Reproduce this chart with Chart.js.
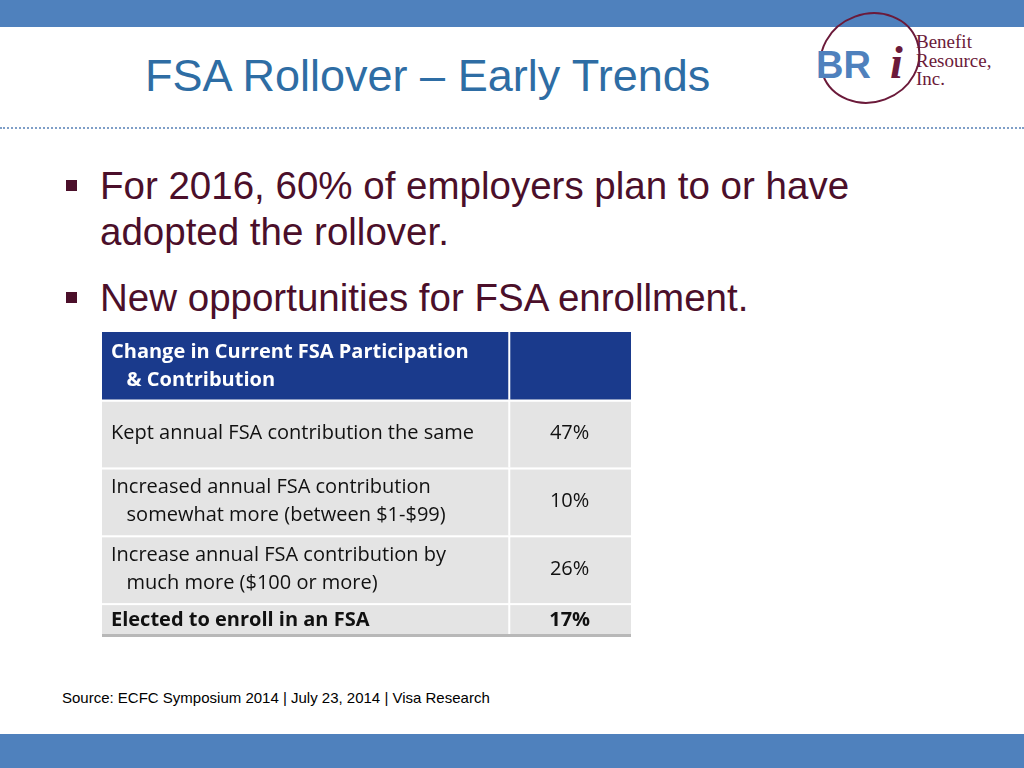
<!DOCTYPE html>
<html>
<head>
<meta charset="utf-8">
<script src="https://cdn.jsdelivr.net/npm/chart.js@4/dist/chart.umd.min.js"></script>
<style>
  body { margin: 0; width: 1024px; height: 768px; position: relative; background: #fff; font-family: "Liberation Sans", Arial, sans-serif; overflow: hidden; }
  .topbar { position: absolute; left: 0; top: 0; width: 1024px; height: 27px; background: #4f81bd; }
  .botbar { position: absolute; left: 0; top: 734px; width: 1024px; height: 34px; background: #4f81bd; }
  .rule { position: absolute; left: 0; top: 127px; width: 1024px; border-top: 2px dotted #7f9fc8; }
  h1 { position: absolute; left: 145px; top: 50px; margin: 0; font-weight: normal; font-size: 45px; color: #2e6da4; }
  .bullet { position: absolute; left: 100px; font-size: 38.5px; color: #4b0f2a; line-height: 46px; white-space: nowrap; }
  .bullet::before { content: ""; position: absolute; left: -34px; top: 17px; width: 11px; height: 11px; background: #4b0f2a; }
  .src { position: absolute; left: 62px; top: 689px; font-size: 15px; color: #000; }
  #wrap { position: absolute; left: 102px; top: 332px; width: 529px; height: 305px; }
  .logo { position: absolute; left: 812px; top: 4px; width: 200px; height: 100px; }
</style>
</head>
<body>
<div class="topbar"></div>
<svg class="logo" viewBox="0 0 200 100">
  <ellipse cx="58" cy="54" rx="50" ry="44" fill="none" stroke="#6b1a3a" stroke-width="2" transform="rotate(-20 58 54)"/>
  <text x="4" y="74" font-family="Liberation Sans" font-weight="bold" font-size="38" fill="#4f81bd">BR</text>
  <text x="78" y="74" font-family="Liberation Serif" font-style="italic" font-weight="bold" font-size="46" fill="#6b1a3a">i</text>
  <text x="104" y="44" font-family="Liberation Serif" font-size="19" fill="#6b1a3a">Benefit</text>
  <text x="104" y="63" font-family="Liberation Serif" font-size="19" fill="#6b1a3a">Resource,</text>
  <text x="104" y="81" font-family="Liberation Serif" font-size="19" fill="#6b1a3a">Inc.</text>
</svg>
<h1>FSA Rollover – Early Trends</h1>
<div class="rule"></div>
<div class="bullet" style="top:163px">For 2016, 60% of employers plan to or have<br>adopted the rollover.</div>
<div class="bullet" style="top:275px">New opportunities for FSA enrollment.</div>
<div id="wrap"><canvas id="tbl"></canvas></div>
<div class="src">Source: ECFC Symposium 2014 | July 23, 2014 | Visa Research</div>
<div class="botbar"></div>
<script>
const headerLines = ['Change in Current FSA Participation', '   & Contribution'];
const rowLabels = [
  ['Kept annual FSA contribution the same'],
  ['Increased annual FSA contribution', '   somewhat more (between $1-$99)'],
  ['Increase annual FSA contribution by', '   much more ($100 or more)'],
  ['Elected to enroll in an FSA']
];
const rowValues = [47, 10, 26, 17];
const rowUnits = [2, 2, 2, 1];

const totalUnits = 2 + rowUnits.reduce((a, b) => a + b, 0);

const tablePlugin = {
  id: 'tablePlugin',
  afterDraw(chart) {
    const ctx = chart.ctx, xs = chart.scales.x, ys = chart.scales.y;
    const split = 0.768;
    const x0 = xs.getPixelForValue(0), xm = xs.getPixelForValue(split), x1 = xs.getPixelForValue(1);
    function cell(l, t, r, b, fill) {
      ctx.fillStyle = fill;
      ctx.fillRect(l, t, r - l, b - t);
    }
    function lines(arr, x, top, bottom, bold, color, align) {
      ctx.font = (bold ? 'bold ' : '') + '20px "Open Sans", "Noto Sans", sans-serif';
      ctx.fillStyle = color;
      ctx.textAlign = align;
      ctx.textBaseline = 'middle';
      const lh = 28, mid = (top + bottom) / 2, start = mid - (arr.length - 1) * lh / 2;
      arr.forEach((s, i) => ctx.fillText(s, x, start + i * lh));
    }
    ctx.save();
    let t = ys.getPixelForValue(0), b = ys.getPixelForValue(2);
    cell(x0, t, x1, b, '#1a3a8c');
    ctx.fillStyle = '#fff';
    ctx.fillRect(xm, t, 2, b - t);
    lines(headerLines, x0 + 9, t, b, true, '#fff', 'left');
    let u = 2;
    rowLabels.forEach((lab, i) => {
      const top = ys.getPixelForValue(u), bot = ys.getPixelForValue(u + rowUnits[i]);
      const last = i === rowLabels.length - 1;
      cell(x0, top, x1, bot, '#e4e4e4');
      ctx.fillStyle = '#fff';
      ctx.fillRect(x0, top, x1 - x0, 2);
      ctx.fillRect(xm, top, 2, bot - top);
      lines(lab, x0 + 9, top, bot, last, '#111', 'left');
      lines([rowValues[i] + '%'], (xm + x1) / 2, top, bot, last, '#111', 'center');
      u += rowUnits[i];
    });
    ctx.fillStyle = '#b8b8b8';
    ctx.fillRect(x0, ys.getPixelForValue(totalUnits) - 3, x1 - x0, 3);
    ctx.restore();
  }
};

new Chart(document.getElementById('tbl'), {
  type: 'scatter',
  data: { datasets: [{ data: [] }] },
  options: {
    responsive: true,
    maintainAspectRatio: false,
    animation: false,
    layout: { padding: 0 },
    plugins: { legend: { display: false }, tooltip: { enabled: false } },
    scales: {
      x: { type: 'linear', min: 0, max: 1, display: false },
      y: { type: 'linear', min: 0, max: totalUnits, reverse: true, display: false }
    }
  },
  plugins: [tablePlugin]
});
</script>
</body>
</html>
